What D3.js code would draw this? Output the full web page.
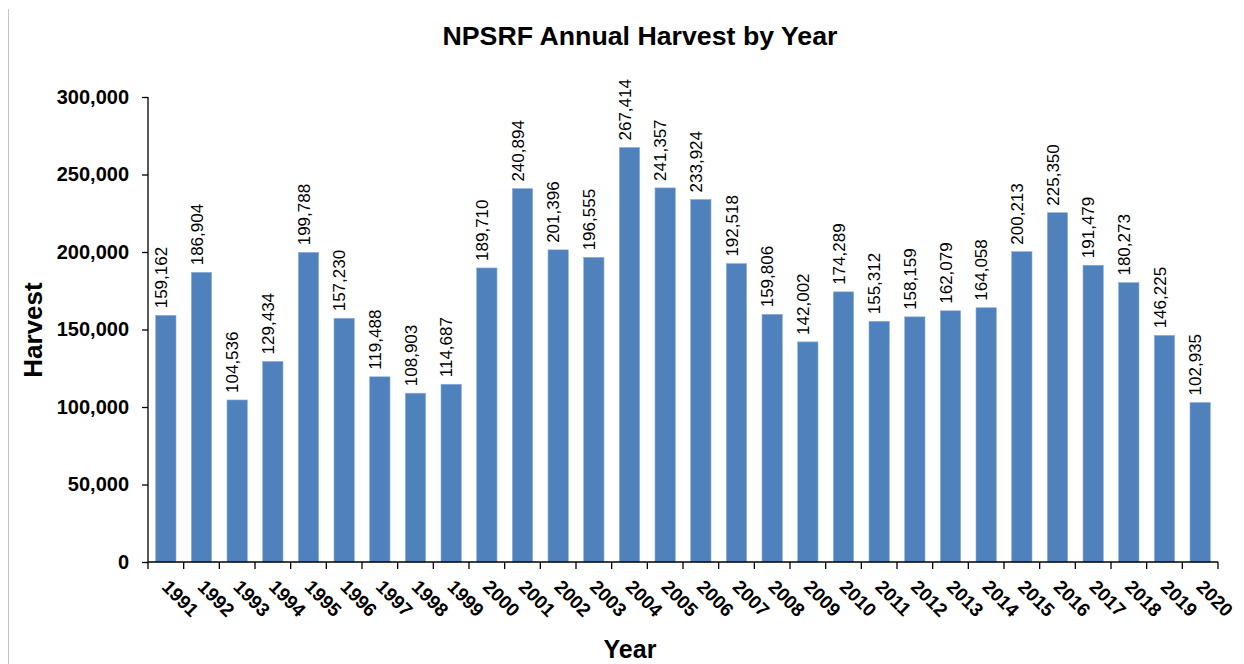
<!DOCTYPE html>
<meta charset="utf-8">
<style>
body { margin: 0; background: #fff; }
svg { font-family: "Liberation Sans", Arial, Helvetica, sans-serif; }
.axis .domain, .axis .tick line { stroke: #000; stroke-width: 1.3px; }
.ylab text { font-weight: bold; font-size: 20px; fill: #000; }
</style>
<svg width="1244" height="664"></svg>
<script src="https://d3js.org/d3.v7.min.js"></script>
<script>

// harvest per year
var years = ["1991","1992","1993","1994","1995","1996","1997","1998","1999","2000",
             "2001","2002","2003","2004","2005","2006","2007","2008","2009","2010",
             "2011","2012","2013","2014","2015","2016","2017","2018","2019","2020"];
var harvest = [159162, 186904, 104536, 129434, 199788, 157230, 119488, 108903, 114687, 189710,
               240894, 201396, 196555, 267414, 241357, 233924, 192518, 159806, 142002, 174289,
               155312, 158159, 162079, 164058, 200213, 225350, 191479, 180273, 146225, 102935];
var yTicks = [0, 50000, 100000, 150000, 200000, 250000, 300000];

var svg = d3.select("svg");

// chart frame edge on the left
svg.append("line")
    .attr("x1", 8.5).attr("x2", 8.5)
    .attr("y1", 9).attr("y2", 664)
    .attr("stroke", "#c4c4c4")
    .attr("stroke-width", 1);

var x = d3.scaleBand()
    .domain(years)
    .range([148, 1218])
    .paddingInner(0.43)
    .paddingOuter(0.215);

var y = d3.scaleLinear()
    .domain([0, 300000])
    .range([562, 97]);

// title
svg.append("text")
    .attr("x", 640)
    .attr("y", 45)
    .attr("text-anchor", "middle")
    .attr("font-weight", "bold")
    .attr("font-size", "25px")
    .attr("textLength", 395)
    .attr("lengthAdjust", "spacingAndGlyphs")
    .text("NPSRF Annual Harvest by Year");

// bars
svg.append("g")
  .selectAll("rect")
  .data(years)
  .enter().append("rect")
    .attr("x", function(d) { return x(d); })
    .attr("width", x.bandwidth())
    .attr("y", function(d, i) { return y(harvest[i]); })
    .attr("height", function(d, i) { return y(0) - y(harvest[i]); })
    .attr("fill", "#4f81bd")
    .attr("stroke", "#8eb0db")
    .attr("stroke-width", 0.6);

// value labels, vertical
svg.append("g")
  .selectAll("text")
  .data(years)
  .enter().append("text")
    .attr("transform", function(d, i) {
        return "translate(" + (x(d) + x.bandwidth() / 2 + 1) + "," + (y(harvest[i]) - 7) + ") rotate(-90)";
    })
    .attr("font-size", "17px")
    .attr("fill", "#000")
    .text(function(d, i) { return d3.format(",")(harvest[i]); });

// y axis
var yAxis = svg.append("g")
    .attr("class", "axis ylab")
    .attr("transform", "translate(148,0)")
    .call(d3.axisLeft(y)
        .tickValues(yTicks)
        .tickSize(6)
        .tickPadding(13)
        .tickFormat(d3.format(",")));
yAxis.select(".domain").attr("d", "M0," + y(300000) + "V" + y(0));

// x axis: baseline with ticks between categories
var step = x.step();
var bounds = d3.range(years.length + 1).map(function(i) { return x.range()[0] + i * step; });
var xg = svg.append("g").attr("class", "axis");
xg.append("line")
    .attr("x1", x.range()[0]).attr("x2", x.range()[1])
    .attr("y1", y(0)).attr("y2", y(0))
    .attr("stroke", "#000").attr("stroke-width", 1.3);
xg.selectAll("line.tk")
  .data(bounds)
  .enter().append("line")
    .attr("class", "tk")
    .attr("x1", function(d) { return d; }).attr("x2", function(d) { return d; })
    .attr("y1", y(0)).attr("y2", y(0) + 7)
    .attr("stroke", "#000").attr("stroke-width", 1.3);

// year labels at 45 degrees
xg.selectAll("text")
  .data(years)
  .enter().append("text")
    .attr("transform", function(d) {
        return "translate(" + (x(d) + x.bandwidth() / 2 - 5) + "," + 588 + ") rotate(45)";
    })
    .attr("font-size", "19px")
    .attr("font-weight", "bold")
    .attr("fill", "#000")
    .text(function(d) { return d; });

// axis titles
svg.append("text")
    .attr("transform", "translate(42,330) rotate(-90)")
    .attr("text-anchor", "middle")
    .attr("font-weight", "bold")
    .attr("font-size", "26px")
    .text("Harvest");

svg.append("text")
    .attr("x", 630)
    .attr("y", 658)
    .attr("text-anchor", "middle")
    .attr("font-weight", "bold")
    .attr("font-size", "25px")
    .text("Year");
</script>
